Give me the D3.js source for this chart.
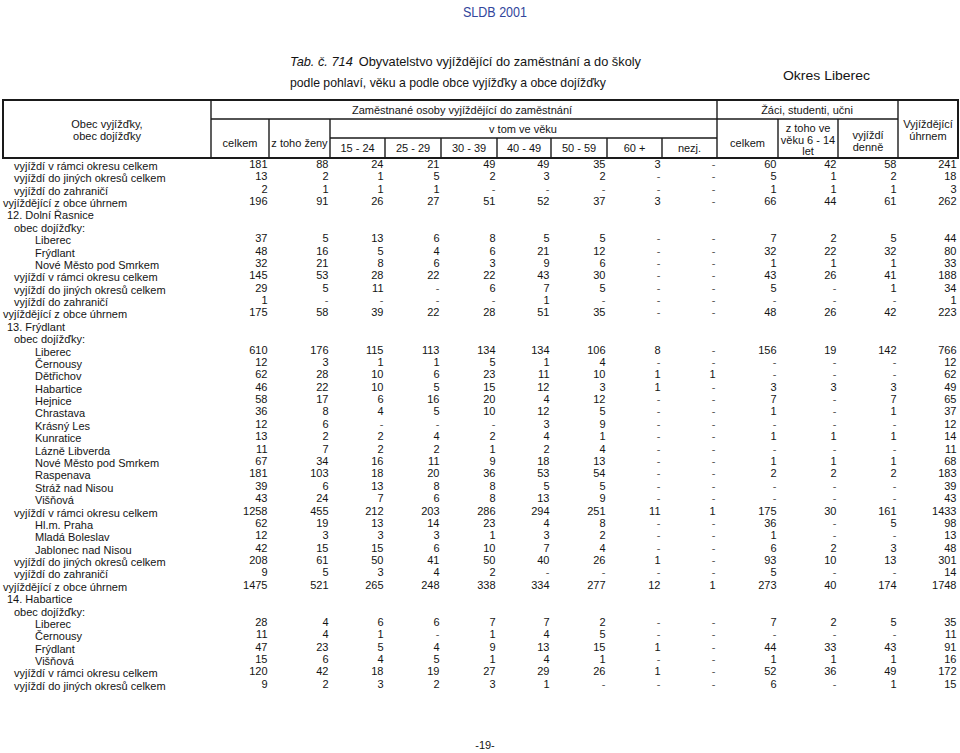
<!DOCTYPE html>
<html>
<head>
<meta charset="utf-8">
<script src="https://cdn.jsdelivr.net/npm/d3@7"></script>
<style>
body { margin: 0; background: #fff; }
svg { display: block; }
text { font-family: "Liberation Sans", Arial, Helvetica, sans-serif; fill: #141414; }
.narrow { font-family: "Liberation Sans Narrow", "Arial Narrow", "Liberation Sans", sans-serif; }
</style>
</head>
<body>
<svg id="page" width="960" height="753"></svg>
<script>
// table data
var columnKeys = ["celkem", "zeny", "a15", "a25", "a30", "a40", "a50", "a60", "nezj",
                  "zCelkem", "z614", "denne", "uhrnem"];
var ageLabels = ["15 - 24", "25 - 29", "30 - 39", "40 - 49", "50 - 59", "60 +", "nezj."];

var rowLabels = [
    "vyjíždí v rámci okresu celkem", "vyjíždí do jiných okresů celkem", "vyjíždí do zahraničí",
    "vyjíždějící z obce úhrnem",
    "12. Dolní Řasnice", "obec dojížďky:", "Liberec", "Frýdlant", "Nové Město pod Smrkem",
    "vyjíždí v rámci okresu celkem", "vyjíždí do jiných okresů celkem", "vyjíždí do zahraničí",
    "vyjíždějící z obce úhrnem",
    "13. Frýdlant", "obec dojížďky:", "Liberec", "Černousy", "Dětřichov", "Habartice", "Hejnice",
    "Chrastava", "Krásný Les", "Kunratice", "Lázně Libverda", "Nové Město pod Smrkem",
    "Raspenava", "Stráž nad Nisou", "Višňová",
    "vyjíždí v rámci okresu celkem", "Hl.m. Praha", "Mladá Boleslav", "Jablonec nad Nisou",
    "vyjíždí do jiných okresů celkem", "vyjíždí do zahraničí", "vyjíždějící z obce úhrnem",
    "14. Habartice", "obec dojížďky:", "Liberec", "Černousy", "Frýdlant", "Višňová",
    "vyjíždí v rámci okresu celkem", "vyjíždí do jiných okresů celkem"
];

// 0 = úhrnem, 1 = obec vyjížďky, 2 = souhrny, 3 = obec dojížďky
var rowLevels = [2, 2, 2, 0,
                 1, 2, 3, 3, 3, 2, 2, 2, 0,
                 1, 2, 3, 3, 3, 3, 3, 3, 3, 3, 3, 3, 3, 3, 3, 2, 3, 3, 3, 2, 2, 0,
                 1, 2, 3, 3, 3, 3, 2, 2];

var rowValues = [
    "181 88 24 21 49 49 35 3 - 60 42 58 241",
    "13 2 1 5 2 3 2 - - 5 1 2 18",
    "2 1 1 1 - - - - - 1 1 1 3",
    "196 91 26 27 51 52 37 3 - 66 44 61 262",
    "", "",
    "37 5 13 6 8 5 5 - - 7 2 5 44",
    "48 16 5 4 6 21 12 - - 32 22 32 80",
    "32 21 8 6 3 9 6 - - 1 1 1 33",
    "145 53 28 22 22 43 30 - - 43 26 41 188",
    "29 5 11 - 6 7 5 - - 5 - 1 34",
    "1 - - - - 1 - - - - - - 1",
    "175 58 39 22 28 51 35 - - 48 26 42 223",
    "", "",
    "610 176 115 113 134 134 106 8 - 156 19 142 766",
    "12 3 1 1 5 1 4 - - - - - 12",
    "62 28 10 6 23 11 10 1 1 - - - 62",
    "46 22 10 5 15 12 3 1 - 3 3 3 49",
    "58 17 6 16 20 4 12 - - 7 - 7 65",
    "36 8 4 5 10 12 5 - - 1 - 1 37",
    "12 6 - - - 3 9 - - - - - 12",
    "13 2 2 4 2 4 1 - - 1 1 1 14",
    "11 7 2 2 1 2 4 - - - - - 11",
    "67 34 16 11 9 18 13 - - 1 1 1 68",
    "181 103 18 20 36 53 54 - - 2 2 2 183",
    "39 6 13 8 8 5 5 - - - - - 39",
    "43 24 7 6 8 13 9 - - - - - 43",
    "1258 455 212 203 286 294 251 11 1 175 30 161 1433",
    "62 19 13 14 23 4 8 - - 36 - 5 98",
    "12 3 3 3 1 3 2 - - 1 - - 13",
    "42 15 15 6 10 7 4 - - 6 2 3 48",
    "208 61 50 41 50 40 26 1 - 93 10 13 301",
    "9 5 3 4 2 - - - - 5 - - 14",
    "1475 521 265 248 338 334 277 12 1 273 40 174 1748",
    "", "",
    "28 4 6 6 7 7 2 - - 7 2 5 35",
    "11 4 1 - 1 4 5 - - - - - 11",
    "47 23 5 4 9 13 15 1 - 44 33 43 91",
    "15 6 4 5 1 4 1 - - 1 1 1 16",
    "120 42 18 19 27 29 26 1 - 52 36 49 172",
    "9 2 3 2 3 1 - - - 6 - 1 15"
];

// layout
var svg = d3.select("#page");
var tableLeft = 3, tableRight = 958;
var headTop = 100, headMid1 = 119, headMid2 = 138, headBottom = 158;

// right border of every column
var colRight = d3.scaleOrdinal()
    .domain(columnKeys)
    .range([269, 330, 385, 441, 497, 551, 607, 662, 717, 778, 838, 898, 958]);
var colLeft = function (k) {
    var i = columnKeys.indexOf(k);
    return i === 0 ? 211 : colRight(columnKeys[i - 1]);
};

var rowY = d3.scalePoint()
    .domain(d3.range(rowLabels.length))
    .range([164, 684]);

var indent = d3.scaleOrdinal().domain([0, 1, 2, 3]).range([3, 7, 14, 35]);

// page headings
svg.append("text").attr("class", "narrow")
    .attr("x", 495).attr("y", 17).attr("text-anchor", "middle")
    .style("font-size", "14px").style("fill", "#32469c")
    .attr("textLength", 64).attr("lengthAdjust", "spacingAndGlyphs")
    .text("SLDB 2001");

var t1 = svg.append("text").attr("class", "narrow")
    .attr("x", 290).attr("y", 66).style("font-size", "13px")
    .attr("textLength", 351).attr("lengthAdjust", "spacingAndGlyphs");
t1.append("tspan").style("font-style", "italic").text("Tab. č. 714");
t1.append("tspan").attr("dx", 6).text("Obyvatelstvo vyjíždějící do zaměstnání a  do školy");

svg.append("text").attr("class", "narrow")
    .attr("x", 290).attr("y", 87).style("font-size", "13px")
    .attr("textLength", 316).attr("lengthAdjust", "spacingAndGlyphs")
    .text("podle pohlaví, věku a podle obce vyjížďky a obce dojížďky");

svg.append("text").attr("class", "narrow")
    .attr("x", 783).attr("y", 80)
    .style("font-size", "13px")
    .attr("textLength", 87).attr("lengthAdjust", "spacingAndGlyphs")
    .text("Okres Liberec");

svg.append("text").attr("class", "narrow")
    .attr("x", 485).attr("y", 749).attr("text-anchor", "middle")
    .style("font-size", "11px")
    .text("-19-");

// header grid
var grid = svg.append("g").attr("stroke", "#1a1a1a").attr("fill", "none");
grid.append("rect")
    .attr("x", tableLeft).attr("y", headTop)
    .attr("width", tableRight - tableLeft).attr("height", headBottom - headTop)
    .attr("stroke-width", 2);

var hLines = [
    [211, 898, headMid1],
    [330, 717, headMid2]
];
grid.selectAll("line.h").data(hLines).enter().append("line")
    .attr("x1", function (d) { return d[0]; })
    .attr("x2", function (d) { return d[1]; })
    .attr("y1", function (d) { return d[2]; })
    .attr("y2", function (d) { return d[2]; })
    .attr("stroke-width", 1.4);

function vTop(k) {
    if (k === "nezj" || k === "denne" || k === "uhrnem") return headTop;
    if (k === "zeny" || k === "celkem" || k === "zCelkem" || k === "z614") return headMid1;
    return headMid2;
}
grid.append("line").attr("x1", 211).attr("x2", 211)
    .attr("y1", headTop).attr("y2", headBottom).attr("stroke-width", 1.4);
grid.selectAll("line.v").data(columnKeys.slice(0, -1)).enter().append("line")
    .attr("x1", function (d) { return colRight(d); })
    .attr("x2", function (d) { return colRight(d); })
    .attr("y1", function (d) { return vTop(d); })
    .attr("y2", headBottom)
    .attr("stroke-width", 1.4);

// header labels
var head = svg.append("g").style("font-size", "11px").attr("text-anchor", "middle");
function headText(x, y, lines) {
    var t = head.append("text").attr("x", x).attr("y", y);
    lines.forEach(function (s, i) {
        t.append("tspan").attr("x", x).attr("dy", i === 0 ? 0 : 11.5).text(s);
    });
}
function mid(k) { return (colLeft(k) + colRight(k)) / 2; }

headText(107, 128, ["Obec vyjížďky,", "obec dojížďky"]);
headText(462, 114, ["Zaměstnané osoby vyjíždějící do zaměstnání"]);
headText(807, 114, ["Žáci, studenti, učni"]);
headText(mid("celkem"), 147, ["celkem"]);
headText(mid("zeny"), 147, ["z toho ženy"]);
headText(523, 133, ["v tom ve věku"]);
ageLabels.forEach(function (s, i) {
    headText(mid(columnKeys[i + 2]), 152, [s]);
});
headText(mid("zCelkem"), 147, ["celkem"]);
headText(mid("z614"), 132, ["z toho ve", "věku 6 - 14", "let"]);
headText(mid("denne"), 139, ["vyjíždí", "denně"]);
headText(mid("uhrnem"), 128, ["Vyjíždějící", "úhrnem"]);

// body
var body = svg.append("g").style("font-size", "11px");

body.selectAll("text.label").data(rowLabels).enter().append("text")
    .attr("class", "label")
    .attr("x", function (d, i) { return indent(rowLevels[i]); })
    .attr("y", function (d, i) { return rowY(i) + 2; })
    .attr("dy", "0.35em")
    .text(function (d) { return d; });

var cells = [];
rowValues.forEach(function (r, i) {
    if (!r) return;
    r.split(" ").forEach(function (v, j) {
        cells.push({ row: i, col: columnKeys[j], value: v });
    });
});

body.selectAll("text.cell").data(cells).enter().append("text")
    .attr("class", "cell")
    .attr("x", function (d) { return colRight(d.col) - 1.5; })
    .attr("y", function (d) { return rowY(d.row); })
    .attr("dy", "0.35em")
    .attr("text-anchor", "end")
    .style("fill", function (d) { return d.value === "-" ? "#555" : "#141414"; })
    .text(function (d) { return d.value; });
</script>
</body>
</html>
